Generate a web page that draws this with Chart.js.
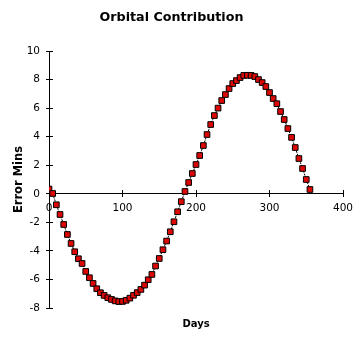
<!DOCTYPE html>
<html>
<head>
<meta charset="utf-8">
<script src="https://cdn.jsdelivr.net/npm/chart.js@4/dist/chart.umd.min.js"></script>
<style>
html,body{margin:0;padding:0;background:#fff;}
#wrap{width:361px;height:343px;position:relative;}
</style>
</head>
<body>
<div id="wrap"><canvas id="c"></canvas></div>
<script>
const chartTitle = 'Orbital Contribution';
const xTitle = 'Days';
const yTitle = 'Error Mins';
const days = [0,5,10,15,20,25,30,35,40,45,50,55,60,65,70,75,80,85,90,95,
  100,105,110,115,120,125,130,135,140,145,150,155,160,165,170,175,180,185,190,195,
  200,205,210,215,220,225,230,235,240,245,250,255,260,265,270,275,280,285,290,295,
  300,305,310,315,320,325,330,335,340,345,350,355];
const errorMins = [0.33,0.02,-0.77,-1.45,-2.15,-2.85,-3.48,-4.06,-4.55,-4.88,
  -5.44,-5.88,-6.28,-6.65,-6.93,-7.12,-7.28,-7.40,-7.50,-7.55,
  -7.54,-7.46,-7.31,-7.11,-6.92,-6.70,-6.40,-6.02,-5.65,-5.06,
  -4.53,-3.92,-3.31,-2.66,-1.96,-1.26,-0.55,0.16,0.79,1.42,
  2.05,2.68,3.38,4.15,4.85,5.48,6.00,6.53,6.95,7.37,
  7.72,7.93,8.14,8.29,8.30,8.29,8.21,8.00,7.79,7.51,
  7.09,6.67,6.31,5.76,5.20,4.57,3.95,3.24,2.47,1.77,1.00,0.30];
const xMin = 0, xMax = 400, xStep = 100;
const yMin = -8, yMax = 10, yStep = 2;

const points = days.map((d, i) => ({x: d, y: errorMins[i]}));

function align(p){ return Math.round(p - 0.5) + 0.5; }
const innerTicks = {
  id: 'innerTicks',
  beforeDatasetsDraw(chart) {
    const {ctx, scales: {x, y}} = chart;
    const y0 = y.getPixelForValue(0);
    ctx.save();
    ctx.strokeStyle = '#000';
    ctx.lineWidth = 1;
    ctx.beginPath();
    x.ticks.forEach(t => {
      const px = align(x.getPixelForValue(t.value));
      ctx.moveTo(px, align(y0));
      ctx.lineTo(px, align(y0) - 3.5);
    });
    y.ticks.forEach(t => {
      const py = align(y.getPixelForValue(t.value));
      ctx.moveTo(align(chart.chartArea.left), py);
      ctx.lineTo(align(chart.chartArea.left) + 3.5, py);
    });
    ctx.stroke();
    ctx.restore();
  }
};

new Chart(document.getElementById('c'), {
  type: 'scatter',
  data: {
    datasets: [{
      data: points,
      showLine: true,
      borderColor: '#000',
      borderWidth: 1,
      borderDash: [2, 1],
      pointStyle: 'rect',
      pointRadius: 4,
      pointHoverRadius: 4,
      pointBackgroundColor: '#dd0806',
      pointBorderColor: '#000',
      pointBorderWidth: 1
    }]
  },
  options: {
    responsive: true,
    maintainAspectRatio: false,
    animation: false,
    events: [],
    layout: {padding: {left: 0, right: 18, top: 0, bottom: 13}},
    plugins: {
      legend: {display: false},
      tooltip: {enabled: false},
      title: {
        display: true,
        text: chartTitle,
        color: '#000',
        font: {family: 'DejaVu Sans', size: 12.7, weight: 'bold'},
        padding: {top: 10, bottom: 25.76}
      },
      subtitle: {
        display: true,
        text: xTitle,
        position: 'bottom',
        fullSize: false,
        color: '#000',
        font: {family: 'DejaVu Sans', size: 10, weight: 'bold'},
        padding: {top: 10, bottom: 0}
      }
    },
    scales: {
      x: {
        type: 'linear',
        position: {y: 0},
        min: xMin, max: xMax,
        afterFit(scale) { scale.height = 0; },
        ticks: {stepSize: xStep, autoSkip: false, maxRotation: 0, color: '#000', padding: 5,
          font: {family: 'DejaVu Sans', size: 10.5}},
        grid: {drawOnChartArea: false, drawTicks: true, tickLength: 3, tickColor: '#000'},
        border: {display: true, color: '#000', width: 1},
        title: {display: false}
      },
      y: {
        type: 'linear',
        position: 'left',
        min: yMin, max: yMax,
        afterFit(scale) { scale.width = 49; },
        ticks: {stepSize: yStep, autoSkip: false, color: '#000', padding: 6,
          font: {family: 'DejaVu Sans', size: 10.5}},
        grid: {drawOnChartArea: false, drawTicks: true, tickLength: 3, tickColor: '#000'},
        border: {display: true, color: '#000', width: 1},
        title: {display: true, text: yTitle, color: '#000', padding: {top: 12, bottom: 0},
          font: {family: 'DejaVu Sans', size: 11.5, weight: 'bold'}}
      }
    }
  },
  plugins: [innerTicks]
});
</script>
</body>
</html>
